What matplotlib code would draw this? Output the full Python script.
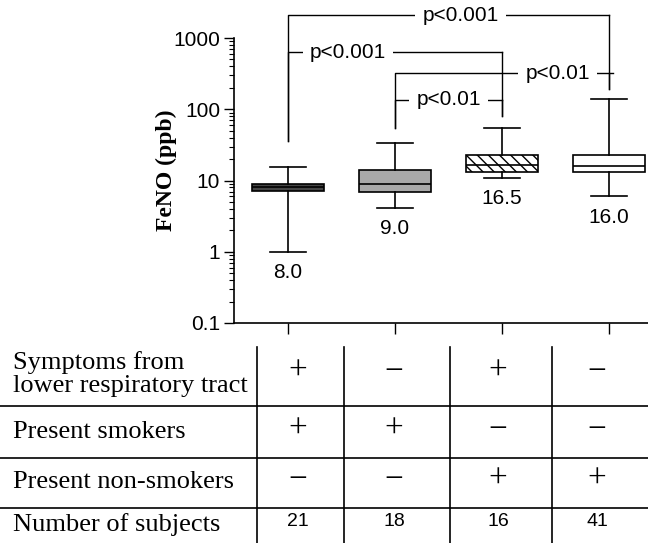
import matplotlib.pyplot as plt
from matplotlib.ticker import FixedLocator, FixedFormatter, LogLocator, NullFormatter

SANS = 'Liberation Sans'
SERIF = 'Liberation Serif'

# box plot summary values (ppb)
medians = [8.0, 9.0, 16.5, 16.0]
q1 = [7.1, 7.0, 13.0, 13.0]
q3 = [9.0, 14.2, 23.0, 22.8]
whislo = [1.0, 4.1, 10.9, 6.0]
whishi = [15.7, 33.6, 55.0, 141.0]
median_labels = ['8.0', '9.0', '16.5', '16.0']

box_colors = ['#454545', '#a9a9a9', 'white', 'white']
box_hatch = [None, None, '\\\\\\', None]

# comparisons: (group a, group b, bar level, a end, b end, label, label x, overhang)
brackets = [
    (1, 4, 2070, 36, 190, 'p<0.001', 2.61, 0.0),
    (1, 3, 631, 36, 80, 'p<0.001', 1.56, 0.0),
    (2, 4, 318, 55, 190, 'p<0.01', 3.52, 0.035),
    (2, 3, 135, 55, 80, 'p<0.01', 2.50, 0.0),
]

# table below the chart
row_labels = ['Symptoms from\nlower respiratory tract', 'Present smokers',
              'Present non-smokers', 'Number of subjects']
symptoms = ['+', '\u2212', '+', '\u2212']
smokers = ['+', '+', '\u2212', '\u2212']
non_smokers = ['\u2212', '\u2212', '+', '+']
n_subjects = ['21', '18', '16', '41']

W, H = 648, 543
fig = plt.figure(figsize=(W / 100, H / 100), dpi=100)
ax = fig.add_axes([234 / W, 220 / H, 414 / W, 285 / H])

stats = []
for i in range(4):
    stats.append(dict(med=medians[i], q1=q1[i], q3=q3[i],
                      whislo=whislo[i], whishi=whishi[i], fliers=[]))

bp = ax.bxp(stats, positions=[1, 2, 3, 4], widths=0.67, patch_artist=True,
            showfliers=False,
            boxprops=dict(linewidth=1.2, edgecolor='black'),
            medianprops=dict(color='black', linewidth=1.2),
            whiskerprops=dict(color='black', linewidth=1.2),
            capprops=dict(color='black', linewidth=1.2))
for patch, c, h in zip(bp['boxes'], box_colors, box_hatch):
    patch.set_facecolor(c)
    if h:
        patch.set_hatch(h)

for i in range(4):
    ax.annotate(median_labels[i], (i + 1, whislo[i]), xytext=(0, -15),
                textcoords='offset points', ha='center', va='center',
                fontsize=15, family=SANS)

for a, b, y, ya, yb, lab, tx, over in brackets:
    ax.plot([a, a, b + over], [ya, y, y], color='black', lw=1.0,
            clip_on=False, zorder=3)
    ax.plot([b, b], [y, yb], color='black', lw=1.0, clip_on=False, zorder=3)
    ax.text(tx, y, lab, ha='center', va='center', fontsize=15, family=SANS,
            zorder=4, clip_on=False,
            bbox=dict(boxstyle='square,pad=0.35', fc='white', ec='none'))

ax.set_yscale('log')
ax.set_ylim(0.1, 1000)
ax.set_xlim(0.495, 4.364)
ax.yaxis.set_major_locator(FixedLocator([0.1, 1, 10, 100, 1000]))
ax.yaxis.set_major_formatter(FixedFormatter(['0.1', '1', '10', '100', '1000']))
ax.yaxis.set_minor_locator(LogLocator(base=10, subs=range(2, 10)))
ax.yaxis.set_minor_formatter(NullFormatter())
ax.set_xticks([1, 2, 3, 4])
ax.set_xticklabels([])
ax.tick_params(axis='y', which='major', length=7, width=1.0, labelsize=15, pad=3)
ax.tick_params(axis='y', which='minor', length=3.5, width=0.8)
ax.tick_params(axis='x', length=8, width=1.0)
for t in ax.get_yticklabels():
    t.set_family(SANS)
for s in ['top', 'right']:
    ax.spines[s].set_visible(False)
for s in ['left', 'bottom']:
    ax.spines[s].set_linewidth(1.2)

ax.set_ylabel('FeNO (ppb)', family=SERIF, fontweight='bold', fontsize=17)
ax.yaxis.set_label_coords(-0.138, 0.537)

# table drawn in pixel-like coordinates
tax = fig.add_axes([0, 0, 1, 1], zorder=-1)
tax.set_xlim(0, W)
tax.set_ylim(H, 0)
tax.axis('off')
col_edges = [257, 344, 450, 552, 648]
row_edges = [347, 406, 458, 508, 543]
for y in row_edges[1:-1]:
    tax.plot([0, W], [y, y], color='black', lw=1.2)
for x in col_edges[:-1]:
    tax.plot([x, x], [row_edges[0], H], color='black', lw=1.2)

row_y = [374, 432, 482, 525]
for lab, y in zip(row_labels, row_y):
    tax.text(13, y, lab, ha='left', va='center', fontsize=19, family=SERIF,
             linespacing=1.05)

rows = [symptoms, smokers, non_smokers]
for r, vals in enumerate(rows):
    for c, v in enumerate(vals):
        xc = (col_edges[c] + col_edges[c + 1]) / 2 - 3
        tax.text(xc, row_y[r] - 2, v, ha='center', va='center', fontsize=24,
                 family=SERIF)
for c, v in enumerate(n_subjects):
    xc = (col_edges[c] + col_edges[c + 1]) / 2 - 3
    tax.text(xc, row_y[3] - 3, v, ha='center', va='center', fontsize=14,
             family=SANS)

fig.savefig('out.png', dpi=100)
